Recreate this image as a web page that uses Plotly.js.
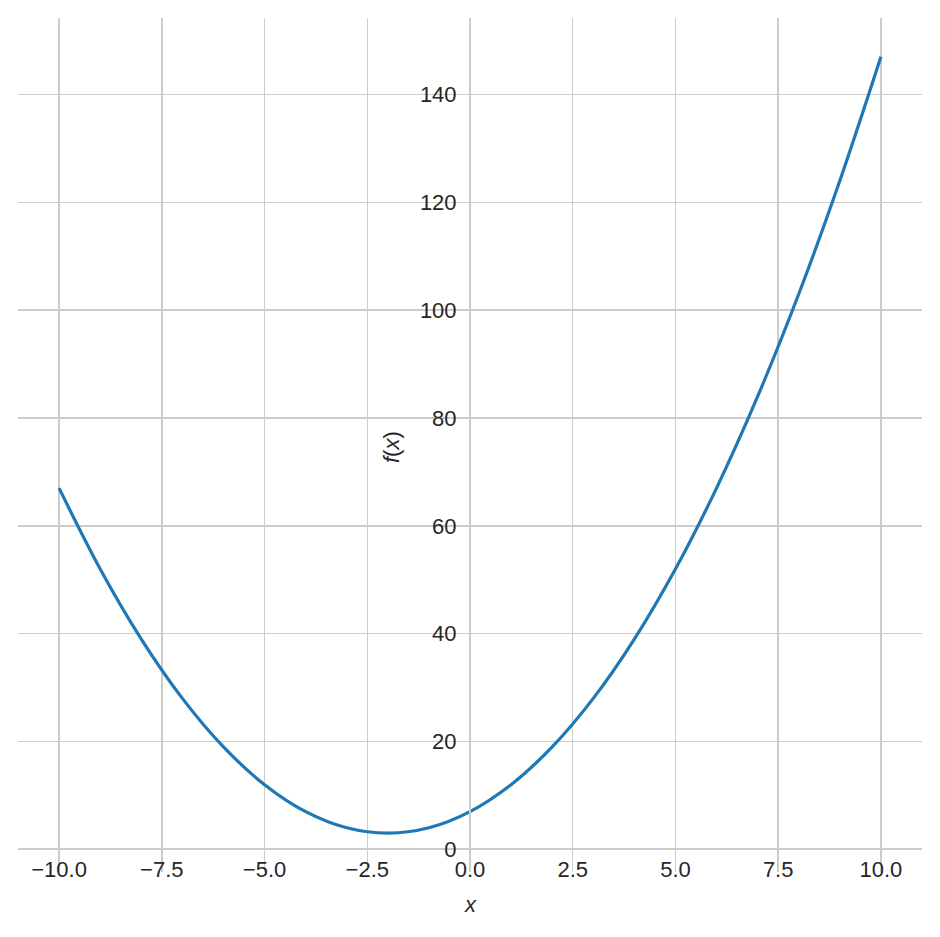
<!DOCTYPE html>
<html>
<head>
<meta charset="utf-8">
<script src="https://cdn.plot.ly/plotly-3.0.1.min.js"></script>
<style>html,body{margin:0;padding:0;background:#fff;}#chart{width:940px;height:937px;}</style>
</head>
<body>
<div id="chart"></div>
<script>
const xValues = [-10,-9,-8,-7,-6,-5,-4,-3,-2,-1,0,1,2,3,4,5,6,7,8,9,10];
const fValues = [67,52,39,28,19,12,7,4,3,4,7,12,19,28,39,52,67,84,103,124,147];
const xTickVals = [-10,-7.5,-5,-2.5,0,2.5,5,7.5,10];
const xTickText = ['\u221210.0','\u22127.5','\u22125.0','\u22122.5','0.0','2.5','5.0','7.5','10.0'];
const yTickVals = [0,20,40,60,80,100,120,140];
const yTickText = ['0','20','40','60','80','100','120','140'];

const trace = {
  x: xValues, y: fValues, type: 'scatter', mode: 'lines',
  line: {color: '#1f77b4', width: 3.2, shape: 'spline', smoothing: 1.0},
  hoverinfo: 'skip'
};
const yMin = -4.2, yMax = 154.2;
const layout = {
  width: 940, height: 937,
  margin: {l: 18, r: 18, t: 18, b: 65},
  paper_bgcolor: '#ffffff', plot_bgcolor: '#ffffff',
  showlegend: false,
  font: {family: 'Liberation Sans, Arial, sans-serif', size: 22, color: '#262626'},
  xaxis: {
    range: [-11, 11], tickvals: xTickVals, ticktext: xTickText,
    showgrid: true, gridcolor: '#cccccc', gridwidth: 1.5,
    zeroline: false, showline: true, linecolor: '#cccccc', linewidth: 2,
    anchor: 'free', position: (0 - yMin) / (yMax - yMin),
    ticks: '', ticklabelstandoff: 0
  },
  yaxis: {
    range: [yMin, yMax], tickvals: yTickVals, ticktext: yTickText,
    showgrid: true, gridcolor: '#cccccc', gridwidth: 1.5,
    zeroline: false, showline: true, linecolor: '#cccccc', linewidth: 2,
    anchor: 'free', position: 0.5,
    ticks: '', ticklabelstandoff: 8
  },
  annotations: [
    {text: '<i>x</i>', xref: 'paper', yref: 'paper', x: 0.5, y: (872 - 905) / 854,
     xanchor: 'center', yanchor: 'middle', showarrow: false, font: {size: 22, color: '#262626'}},
    {text: '<i>f</i>(<i>x</i>)', xref: 'paper', yref: 'paper', x: (391 - 18) / 904, y: (872 - 447) / 854,
     xanchor: 'center', yanchor: 'middle', textangle: -90, showarrow: false, font: {size: 22, color: '#262626'}}
  ]
};
Plotly.newPlot('chart', [trace], layout, {displayModeBar: false, staticPlot: true});
</script>
</body>
</html>
